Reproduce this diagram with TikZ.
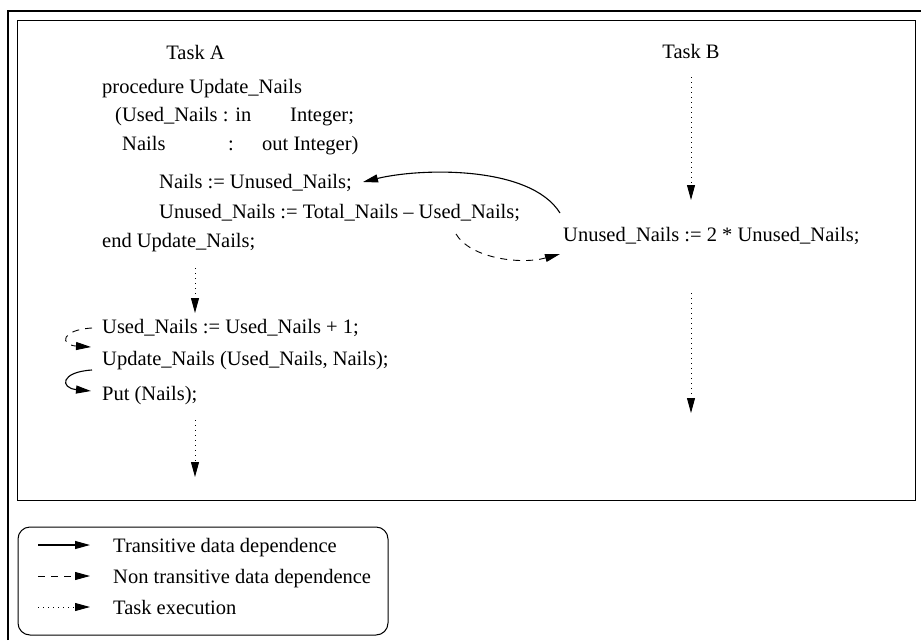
\documentclass[tikz,border=0pt]{standalone}
\usepackage{fontspec}
\setmainfont{Liberation Serif}
\usetikzlibrary{arrows.meta}
\begin{document}
\begin{tikzpicture}[x=1pt,y=-1pt,
  txt/.style={anchor=base west,inner sep=0pt,font=\fontsize{20.5}{24}\selectfont},
  ctxt/.style={anchor=base,inner sep=0pt,font=\fontsize{20.5}{24}\selectfont},
  tip/.style={-{Triangle[length=15pt,width=8pt]}},
  solidarr/.style={tip,line width=1.1pt},
  dasharr/.style={tip,line width=0.9pt,dash pattern=on 7pt off 6pt},
  dotarr/.style={tip,line width=0.9pt,dash pattern=on 1pt off 4pt}]
\useasboundingbox (0,0) rectangle (921,640);
\fill[white] (0,0) rectangle (921,640);
% outer frame
\draw[line width=2.5pt] (8,640) -- (8,11) -- (921,11);
% inner box
\draw[line width=1pt] (17,20) rectangle (915,500);
% Task A
\node[ctxt] (taskA) at (195.5,59) {Task A};
\node[txt] (proc) at (102,93) {procedure Update\_Nails};
\node[txt] (p1a) at (115,121) {(Used\_Nails : in};
\node[txt] (p1b) at (290,121) {Integer;};
\node[txt] (p2a) at (122,150) {Nails};
\node[txt] (p2b) at (228,150) {:};
\node[txt] (p2c) at (262,150) {out Integer)};
\node[txt] (nails) at (159,188) {Nails := Unused\_Nails;};
\node[txt] (unused) at (159,218) {Unused\_Nails := Total\_Nails – Used\_Nails;};
\node[txt] (endp) at (102,247) {end Update\_Nails;};
\node[txt] (incr) at (102,333) {Used\_Nails := Used\_Nails + 1;};
\node[txt] (call) at (102,365) {Update\_Nails (Used\_Nails, Nails);};
\node[txt] (put) at (102,400) {Put (Nails);};
% Task B
\node[ctxt] (taskB) at (691,58) {Task B};
\node[txt] (bstmt) at (563,241) {Unused\_Nails := 2 * Unused\_Nails;};
% task execution arrows
\coordinate (a1s) at (195,268); \coordinate (a1e) at (195,313);
\coordinate (a2s) at (195,420); \coordinate (a2e) at (195,477);
\coordinate (b1s) at (691,77);  \coordinate (b1e) at (691,200);
\coordinate (b2s) at (691,293); \coordinate (b2e) at (691,413);
\draw[dotarr] (a1s) -- (a1e);
\draw[dotarr] (a2s) -- (a2e);
\draw[dotarr] (b1s) -- (b1e);
\draw[dotarr] (b2s) -- (b2e);
% data dependences
\coordinate (s1) at (560,213); \coordinate (e1) at (363,182);
\draw[solidarr] (s1) .. controls (530,165) and (420,168) .. (e1);
\coordinate (s2) at (456,234); \coordinate (e2) at (560,254);
\draw[dasharr] (s2) .. controls (470,258) and (520,265) .. (e2);
\coordinate (s3) at (92,328); \coordinate (e3) at (91,347);
\draw[dasharr] (s3) .. controls (60,330) and (60,345) .. (e3);
\coordinate (s4) at (92,370); \coordinate (e4) at (91,391);
\draw[solidarr] (s4) .. controls (60,372) and (60,388) .. (e4);
% legend
\draw[line width=1pt,rounded corners=12pt] (18,527) rectangle (388,635);
\coordinate (l1s) at (38,545); \coordinate (l1e) at (90,545);
\coordinate (l2s) at (38,576); \coordinate (l2e) at (90,576);
\coordinate (l3s) at (38,607); \coordinate (l3e) at (90,607);
\draw[solidarr] (l1s) -- (l1e);
\draw[dasharr] (l2s) -- (l2e);
\draw[dotarr] (l3s) -- (l3e);
\node[txt] (lg1) at (113,552) {Transitive data dependence};
\node[txt] (lg2) at (113,583) {Non transitive data dependence};
\node[txt] (lg3) at (113,614) {Task execution};
\end{tikzpicture}
\end{document}
